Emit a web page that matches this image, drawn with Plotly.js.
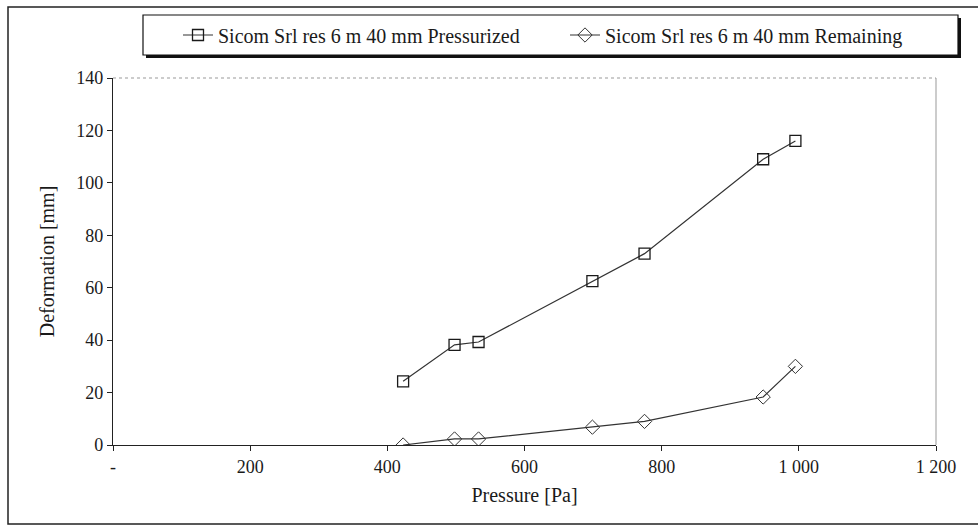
<!DOCTYPE html>
<html>
<head>
<meta charset="utf-8">
<script src="https://cdn.plot.ly/plotly-3.0.1.min.js"></script>
<style>html,body{margin:0;padding:0;background:#fff;}#chart{width:978px;height:528px;}</style>
</head>
<body>
<div id="chart"></div>
<script>
// Data
const pressure = [423, 498, 533, 699, 775, 948, 995];
const pressurized = [24.3, 38.2, 39.3, 62.5, 73, 109, 116];
const remaining = [0, 2.3, 2.3, 6.8, 9, 18.3, 30];
const xTickVals = [0, 200, 400, 600, 800, 1000, 1200];
const xTickText = ["-", "200", "400", "600", "800", "1 000", "1 200"];
const yTickVals = [0, 20, 40, 60, 80, 100, 120, 140];
const seriesNames = ["Sicom Srl res 6 m 40 mm Pressurized", "Sicom Srl res 6 m 40 mm Remaining"];

const FONT = "'Liberation Serif', 'Times New Roman', serif";
const ink = "#1a1a1a";

const traces = [
  {
    x: pressure, y: pressurized, name: seriesNames[0], type: "scatter", mode: "lines+markers",
    line: {color: "#333", width: 1.2},
    marker: {symbol: "square-open", size: 11, color: ink, line: {color: ink, width: 1.3}}
  },
  {
    x: pressure, y: remaining, name: seriesNames[1], type: "scatter", mode: "lines+markers",
    line: {color: "#333", width: 1.2},
    marker: {symbol: "diamond-open", size: 11, color: "#333", line: {color: "#333", width: 1}}
  }
];

const L = 113, R = 936, T = 78, B = 445, W = 978, H = 528;
const px = v => (v - L) / (R - L);
const py = v => (B - v) / (B - T);

const layout = {
  width: W, height: H,
  margin: {l: L, r: W - R, t: T, b: H - B, pad: 0},
  paper_bgcolor: "#fff", plot_bgcolor: "#fff",
  font: {family: FONT, color: ink, size: 18},
  showlegend: true,
  legend: {
    orientation: "h", x: px(178), xanchor: "left", y: py(35), yanchor: "middle",
    bgcolor: "rgba(0,0,0,0)", borderwidth: 0,
    font: {family: FONT, size: 20, color: ink},
    entrywidth: 342, entrywidthmode: "pixels",
    itemwidth: 30
  },
  xaxis: {
    range: [0, 1200], tickvals: xTickVals, ticktext: xTickText,
    showgrid: false, zeroline: false, showline: true, linecolor: "#222", linewidth: 1.2,
    ticks: "outside", ticklen: 5, tickcolor: "#222", tickwidth: 1,
    tickfont: {family: FONT, size: 18, color: ink},
    title: {text: "Pressure [Pa]", font: {family: FONT, size: 20, color: ink}, standoff: 12}
  },
  yaxis: {
    range: [0, 140], tickvals: yTickVals,
    showgrid: false, zeroline: false, showline: true, linecolor: "#222", linewidth: 1.2,
    ticks: "outside", ticklen: 5, tickcolor: "#222", tickwidth: 1,
    tickfont: {family: FONT, size: 18, color: ink},
    title: {text: "Deformation [mm]", font: {family: FONT, size: 20, color: ink}, standoff: 16}
  },
  shapes: [
    // outer chart frame
    {type: "rect", xref: "paper", yref: "paper", x0: px(8), x1: px(990), y0: py(524), y1: py(7),
     line: {color: "#222", width: 1.5}, fillcolor: "rgba(0,0,0,0)", layer: "below"},
    // plot area top border (dotted) and right border
    {type: "line", xref: "paper", yref: "paper", x0: 0, x1: 1, y0: 1, y1: 1,
     line: {color: "#999", width: 1, dash: "dot"}, layer: "below"},
    {type: "line", xref: "paper", yref: "paper", x0: 1, x1: 1, y0: 0, y1: 1,
     line: {color: "#999", width: 1}, layer: "below"},
    // legend box shadow and box
    {type: "rect", xref: "paper", yref: "paper", x0: px(146), x1: px(961), y0: py(58), y1: py(18),
     line: {width: 0}, fillcolor: "#111", layer: "above"},
    {type: "rect", xref: "paper", yref: "paper", x0: px(143), x1: px(958), y0: py(55), y1: py(15),
     line: {color: "#111", width: 1.2}, fillcolor: "#fff", layer: "above"}
  ]
};

Plotly.newPlot("chart", traces, layout, {displayModeBar: false, staticPlot: true});
</script>
</body>
</html>
